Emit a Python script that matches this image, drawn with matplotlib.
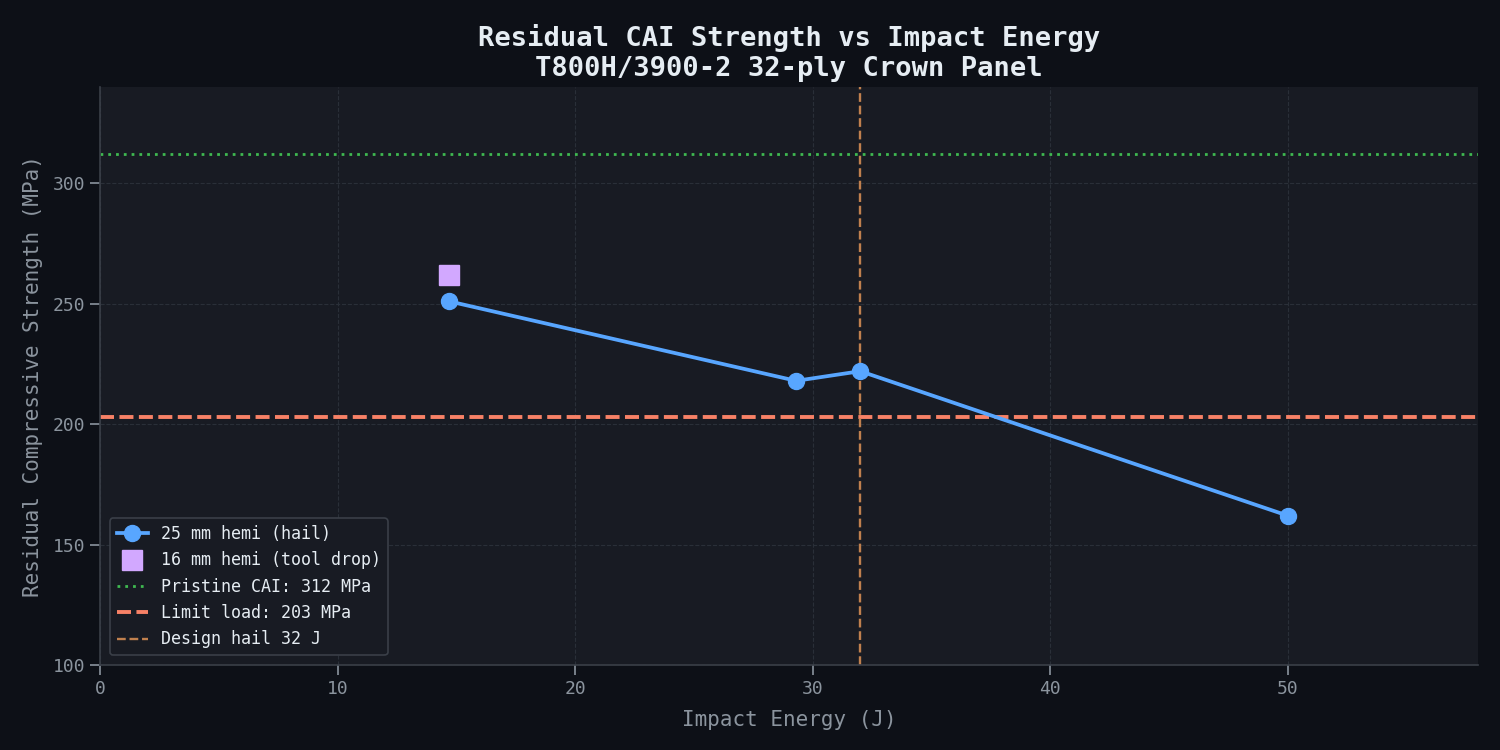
import matplotlib
matplotlib.use("Agg")
import matplotlib.pyplot as plt

# ── data ──────────────────────────────────────────────────────────────────────
hail_energy = [14.7, 29.3, 32.0, 50.0]
hail_strength = [251, 218, 222, 162]
tool_energy = [14.7]
tool_strength = [262]
pristine_cai = 312
limit_load = 203
design_hail = 32

plt.rcParams["font.family"] = ["DejaVu Sans Mono", "DejaVu Sans"]

fig = plt.figure(figsize=(15, 7.5), dpi=100, facecolor="#0d1017")
ax = fig.add_axes([0.0667, 0.1133, 0.9186, 0.7707], facecolor="#181b23")

ax.plot(hail_energy, hail_strength, color="#58a6ff", lw=2.7, marker="o",
        markersize=11.5, label="25 mm hemi (hail)", zorder=4)
ax.plot(tool_energy, tool_strength, ls="none", marker="s", markersize=14.5,
        color="#d2a8ff", label="16 mm hemi (tool drop)", zorder=4)
ax.axhline(pristine_cai, color="#3fb950", lw=2, dashes=(1, 1.8),
           label=f"Pristine CAI: {pristine_cai} MPa")
ax.axhline(limit_load, color="#f78166", lw=2.8, dashes=(3.6, 1.4),
           label=f"Limit load: {limit_load} MPa")
ax.axvline(design_hail, color="#c0804e", ls="--", lw=1.7,
           label=f"Design hail {design_hail} J")

ax.set_xlim(0, 58)
ax.set_ylim(100, 340)
ax.set_xticks([0, 10, 20, 30, 40, 50])
ax.set_yticks([100, 150, 200, 250, 300])
ax.grid(True, color="#2a2f38", ls="--", lw=0.8)
ax.set_axisbelow(True)

for side in ("top", "right"):
    ax.spines[side].set_visible(False)
for side in ("left", "bottom"):
    ax.spines[side].set_color("#3a3f48")
    ax.spines[side].set_linewidth(1.2)
ax.tick_params(colors="#8b949e", labelsize=13, length=7, width=1.2)
for t in ax.get_xticklabels() + ax.get_yticklabels():
    t.set_color("#8b949e")

ax.set_xlabel("Impact Energy (J)", color="#8b949e", fontsize=15, labelpad=9)
ax.set_ylabel("Residual Compressive Strength (MPa)", color="#8b949e", fontsize=15, labelpad=7)
ax.set_title("Residual CAI Strength vs Impact Energy\nT800H/3900-2 32-ply Crown Panel",
             color="#e6edf3", fontsize=19.5, fontweight="bold", pad=8, linespacing=1.2)

leg = ax.legend(loc="lower left", fontsize=12, facecolor="#181b23",
                edgecolor="#3a3f48", labelcolor="#e6edf3", framealpha=1,
                borderpad=0.4, handlelength=1.85, borderaxespad=0.6)
leg.get_frame().set_linewidth(1.2)

fig.savefig("out.png", dpi=100, facecolor=fig.get_facecolor())
